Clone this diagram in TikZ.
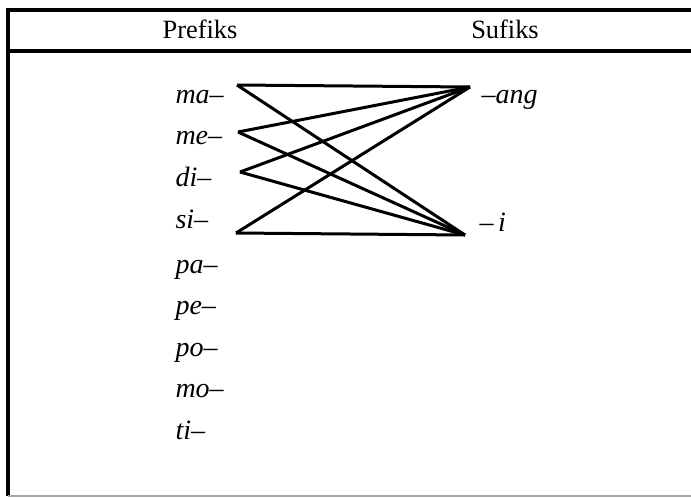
\documentclass[tikz,border=0pt]{standalone}
\usepackage{fontspec}
\setmainfont{Liberation Serif}
\begin{document}
\begin{tikzpicture}[x=0.5pt,y=-0.5pt,line width=1.5pt,
  lab/.style={font=\fontsize{14}{16}\selectfont\itshape,anchor=base west,inner sep=0pt},
  head/.style={font=\fontsize{13.2}{15}\selectfont,anchor=base,inner sep=0pt}]
  \useasboundingbox (0,0) rectangle (691,499);
  % table frame
  \draw[line width=2pt] (691,10) -- (8,10) -- (8,496);
  \draw[line width=1.8pt] (8,51) -- (691,51);
  \draw[black!35,line width=0.8pt] (8,496) -- (691,496);
  \node[head] (prefiks) at (200,38) {Prefiks};
  \node[head] (sufiks) at (505,38) {Sufiks};
  % prefixes and suffixes
  \foreach \nm/\y in {ma/103,me/144,di/186,si/228,pa/273,pe/314,po/356,mo/397,ti/439}
    \node[lab] (\nm) at (174,\y) {\nm--};
  \node[lab] (ang) at (480,103) {--ang};
  \node[lab] (i) at (478,231) {--\,i};
  % line ends
  \foreach \nm/\x/\y in {ma/237/85,me/238/132,di/240/172,si/236/233}
    \coordinate (\nm-end) at (\x,\y);
  \coordinate (ang-end) at (470,87);
  \coordinate (i-end) at (465,235);
  \foreach \nm in {ma,me,di,si}{
    \draw (\nm-end) -- (ang-end);
    \draw (\nm-end) -- (i-end);
  }
\end{tikzpicture}
\end{document}
